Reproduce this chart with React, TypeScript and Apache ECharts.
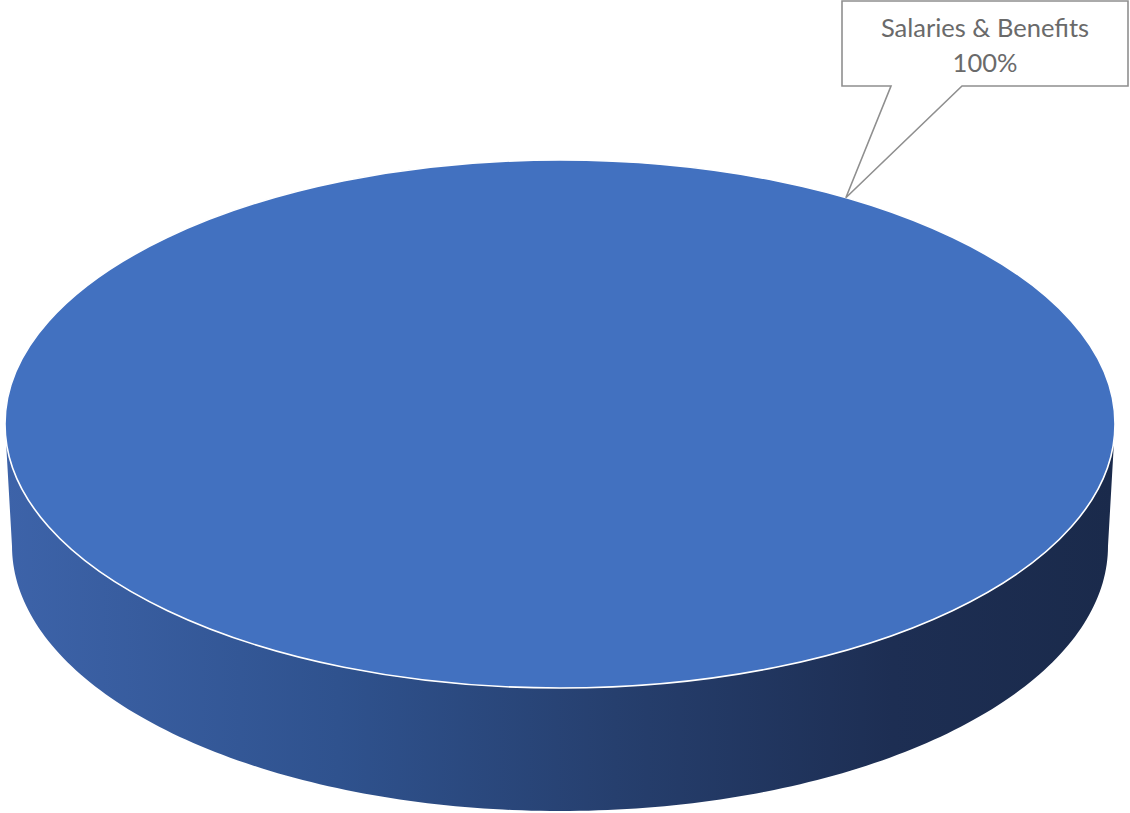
import React, { useEffect, useRef } from "react";
import * as echarts from "echarts";

// ---- data ----
const categories: string[] = ["Salaries & Benefits"];
const values: number[] = [100];
const sliceColors: string[] = ["#4271C0"];
const labelAnchorDeg: number[] = [-59]; // where the callout points on the rim

// ---- layout (styles / positions, not data) ----
const TOP = { cx: 560, cy: 424, rx: 555, ry: 264 };
const BOT = { cx: 560, cy: 546, rx: 548, ry: 265 };
const BOX = { x: 842, y: 1, w: 286, h: 85, baseL: 891, baseR: 962 };

function ell(e: { cx: number; cy: number; rx: number; ry: number }, a: number): number[] {
  return [e.cx + e.rx * Math.cos(a), e.cy + e.ry * Math.sin(a)];
}

export default function App() {
  const ref = useRef<HTMLDivElement>(null);
  useEffect(() => {
    if (!ref.current) return;
    const chart = echarts.init(ref.current, null, { renderer: "svg" });
    const total = values.reduce((s, v) => s + v, 0);

    const renderItem = (params: any, api: any) => {
      const i = params.dataIndex;
      const v = api.value(0);
      const before = values.slice(0, i).reduce((s, x) => s + x, 0);
      const a0 = -Math.PI / 2 + (2 * Math.PI * before) / total;
      const a1 = a0 + (2 * Math.PI * v) / total;
      const full = v / total >= 0.99999;
      const children: any[] = [];

      // side band (front visible part, angles 0..PI)
      const lo = Math.max(a0, 0);
      const hi = Math.min(a1, Math.PI);
      if (hi > lo) {
        const pts: number[][] = [];
        const n = 180;
        for (let k = 0; k <= n; k++) pts.push(ell(TOP, lo + ((hi - lo) * k) / n));
        for (let k = n; k >= 0; k--) pts.push(ell(BOT, lo + ((hi - lo) * k) / n));
        children.push({
          type: "polygon",
          shape: { points: pts },
          style: {
            fill: new echarts.graphic.LinearGradient(0, 0, 1, 0, [
              { offset: 0, color: "#3d63a9" },
              { offset: 0.3, color: "#2f528e" },
              { offset: 0.55, color: "#263f6e" },
              { offset: 0.8, color: "#1d2e53" },
              { offset: 1, color: "#1a2a4b" },
            ]),
            stroke: null,
          },
        });
      }

      // top face
      if (full) {
        children.push({
          type: "ellipse",
          shape: { cx: TOP.cx, cy: TOP.cy, rx: TOP.rx, ry: TOP.ry },
          style: { fill: sliceColors[i], stroke: "#ffffff", lineWidth: 1.6 },
        });
      } else {
        const pts: number[][] = [[TOP.cx, TOP.cy]];
        const n = 200;
        for (let k = 0; k <= n; k++) pts.push(ell(TOP, a0 + ((a1 - a0) * k) / n));
        children.push({
          type: "polygon",
          shape: { points: pts },
          style: { fill: sliceColors[i], stroke: "#ffffff", lineWidth: 1.6 },
        });
      }

      // callout
      const anc = ell(TOP, (labelAnchorDeg[i] * Math.PI) / 180);
      children.push({
        type: "polygon",
        shape: {
          points: [
            [BOX.x, BOX.y],
            [BOX.x + BOX.w, BOX.y],
            [BOX.x + BOX.w, BOX.y + BOX.h],
            [BOX.baseR, BOX.y + BOX.h],
            anc,
            [BOX.baseL, BOX.y + BOX.h],
            [BOX.x, BOX.y + BOX.h],
          ],
        },
        style: { fill: "rgba(255,255,255,0)", stroke: "#8f8f8f", lineWidth: 1.6 },
      });
      const pct = Math.round((v / total) * 100) + "%";
      children.push({
        type: "text",
        x: BOX.x + BOX.w / 2,
        y: BOX.y + BOX.h / 2 + 1,
        style: {
          text: categories[i] + "\n" + pct,
          align: "center",
          verticalAlign: "middle",
          fontFamily: "Lato",
          fontSize: 25.5,
          lineHeight: 35,
          fill: "#6a6a6a",
        },
      });

      return { type: "group", children };
    };

    chart.setOption({
      animation: false,
      backgroundColor: "#ffffff",
      series: [
        {
          type: "custom",
          coordinateSystem: "none",
          silent: true,
          data: values.map((v, i) => ({ value: [v], name: categories[i] })),
          renderItem,
        },
      ],
    });
    return () => chart.dispose();
  }, []);

  return (
    <div
      ref={ref}
      style={{ position: "fixed", left: 0, top: 0, width: 1130, height: 813 }}
    />
  );
}
